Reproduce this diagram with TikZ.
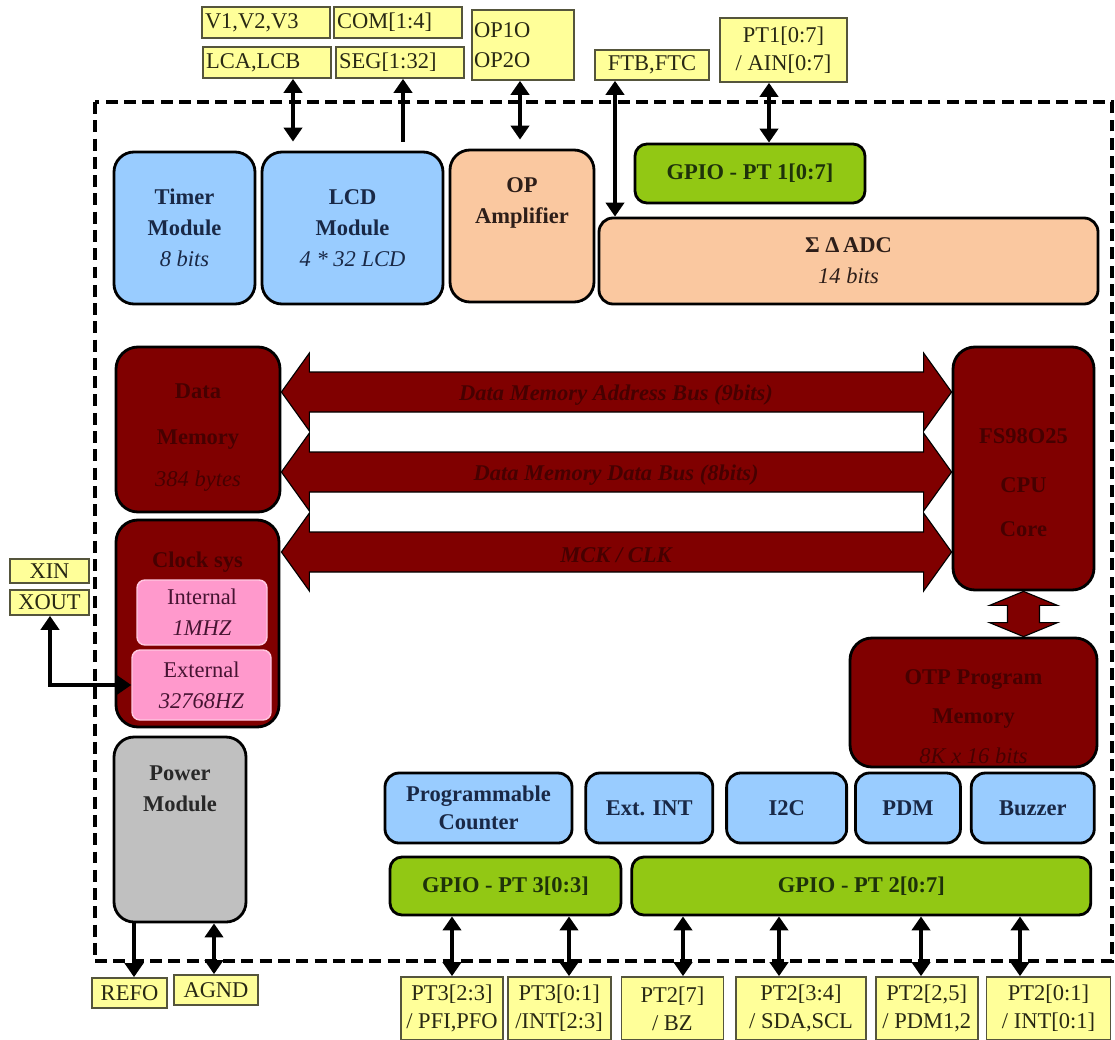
\documentclass[tikz,border=0pt]{standalone}
\usepackage{fontspec}
\setmainfont{Liberation Serif}
\usepackage{tikz}
\usetikzlibrary{positioning}
\usetikzlibrary{arrows.meta}
\usetikzlibrary{calc}
\tikzset{>={Triangle[width=13pt,length=10pt]}}

\newlength{\px}
\setlength{\px}{0.025cm}
\newcommand{\subtxt}[1]{{\mdseries\itshape #1}}

\definecolor{lblfill}{RGB}{255,255,153}
\definecolor{lbldraw}{RGB}{85,85,60}
\definecolor{lbltext}{RGB}{40,40,20}
\definecolor{blufill}{RGB}{153,204,255}
\definecolor{blutext}{RGB}{25,40,70}
\definecolor{orgfill}{RGB}{250,200,160}
\definecolor{orgtext}{RGB}{45,30,25}
\definecolor{grnfill}{RGB}{146,200,20}
\definecolor{grntext}{RGB}{30,50,10}
\definecolor{redfill}{RGB}{128,0,0}
\definecolor{redtext}{RGB}{70,0,0}
\definecolor{pnkfill}{RGB}{255,153,204}
\definecolor{pnkdraw}{RGB}{255,200,225}
\definecolor{pnktext}{RGB}{70,20,50}
\definecolor{gryfill}{RGB}{192,192,192}
\definecolor{grytext}{RGB}{40,40,40}

\tikzset{
  lbl/.style={draw=lbldraw, line width=1.2pt, fill=lblfill, inner sep=0pt, text=lbltext},
  blk/.style={draw=black, line width=2pt, inner sep=0pt, align=center, font=\bfseries, rounded corners=20\px},
  bluebox/.style={blk, fill=blufill, text=blutext},
  orgbox/.style={blk, fill=orgfill, text=orgtext},
  grnbox/.style={blk, fill=grnfill, text=grntext, rounded corners=12\px},
  redbox/.style={blk, fill=redfill, text=redtext, rounded corners=22\px},
  pnkbox/.style={blk, fill=pnkfill, draw=pnkdraw, line width=1pt, text=pnktext, font=\mdseries, rounded corners=8\px},
  grybox/.style={blk, fill=gryfill, text=grytext},
  txt/.style={align=center, font=\bfseries},
  redtxt/.style={txt, text=redtext},
  bustxt/.style={font=\bfseries\itshape, text=redtext},
  io/.style={line width=2.5pt},
  bus/.style={draw=black, line width=0.8pt, fill=redfill},
  chipframe/.style={line width=2.8pt, dash pattern=on 8.5pt off 4.5pt},
}

\begin{document}
\begin{tikzpicture}[x=0.025cm, y=-0.025cm]
    \fontsize{16}{22}\selectfont
    \useasboundingbox (0,0) rectangle (1115,1039);
    \draw[chipframe] (95,102) rectangle (1112,961);

    % pins on top
    \node (v123) [lbl, minimum width=128\px, minimum height=31\px, text width=122\px, align=left] at (266,22.5) {V1,V2,V3};
    \node (com) [lbl, minimum width=128\px, minimum height=31\px, text width=122\px, align=left] at (398,22.5) {COM[1:4]};
    \node (lcalcb) [lbl, minimum width=128\px, minimum height=31\px, text width=122\px, align=left] at (267,62.5) {LCA,LCB};
    \node (seg) [lbl, minimum width=128\px, minimum height=31\px, text width=122\px, align=left] at (400,62.5) {SEG[1:32]};
    \node (opo) [lbl, minimum width=102\px, minimum height=70\px, text width=98\px, align=left] at (523,45) {OP1O\\[-1pt]OP2O};
    \node (ftb) [lbl, minimum width=114\px, minimum height=30\px] at (652,65) {FTB,FTC};
    \node (pt1) [lbl, minimum width=127\px, minimum height=64\px, align=center] at (783.5,50) {PT1[0:7]\\[-2pt]/ AIN[0:7]};

    % first row
    \node (timer) [bluebox, minimum width=141\px, minimum height=152\px] at (184.5,228) {Timer\\Module\\\subtxt{8 bits}};
    \node (lcd) [bluebox, minimum width=181\px, minimum height=152\px] at (352.5,228) {LCD\\Module\\\subtxt{4 * 32 LCD}};
    \node (op) [orgbox, minimum width=144\px, minimum height=152\px] at (522,226) {};
    \node (optxt) [txt, text=orgtext, below=21\px of op.north] {OP\\Amplifier};
    \node (gpio1) [grnbox, minimum width=230\px, minimum height=59\px] at (750,173.5) {GPIO - PT 1[0:7]};
    \node (adc) [orgbox, rounded corners=14\px, minimum width=499\px, minimum height=86\px] at (848.5,261) {Σ Δ\,ADC\\\subtxt{14 bits}};

    % core
    \node (dmem) [redbox, minimum width=164\px, minimum height=165\px] at (198,429.5) {};
    \node (dmemtxt) [redtxt, below=30\px of dmem.north] {Data\\[11pt]Memory\\[8pt]\subtxt{384 bytes}};
    \node (clk) [redbox, minimum width=163\px, minimum height=207\px] at (197.5,623.5) {};
    \node (clktxt) [redtxt, below=26\px of clk.north] {Clock sys};
    \node (intl) [pnkbox, minimum width=130\px, minimum height=65\px] at (202,612.5) {Internal\\\subtxt{1MHZ}};
    \node (extl) [pnkbox, minimum width=139\px, minimum height=70\px] at (201.5,685) {External\\\subtxt{32768HZ}};
    \node (cpu) [redbox, minimum width=141\px, minimum height=243\px] at (1023.5,468.5) {};
    \node (cputxt) [redtxt, below=75\px of cpu.north] {FS98O25\\[13pt]CPU\\[9pt]Core};
    \node (otp) [redbox, minimum width=247\px, minimum height=129\px] at (973.5,702.5) {};
    \node (otptxt) [redtxt, below=25\px of otp.north] {OTP Program\\[6pt]Memory\\[6pt]\subtxt{8K x 16 bits}};

    \node (xin) [lbl, minimum width=79\px, minimum height=24\px] at (49.5,571) {XIN};
    \node (xout) [lbl, minimum width=79\px, minimum height=25\px] at (49.5,602.5) {XOUT};

    % buses
    \coordinate (busL) at (dmem.east);
    \coordinate (busR) at (cpu.west);
    \foreach \c in {392,472,552}
        \draw[bus] (busL |- 0,\c) -- ++(28,-39) -- ++(0,19) -- ($(busR |- 0,\c)+(-28,-20)$) -- ++(0,-19) -- (busR |- 0,\c) -- ++(-28,39) -- ++(0,-19) -- ($(busL |- 0,\c)+(28,20)$) -- ++(0,19) -- cycle;
    \node (bus1) [bustxt] at (616,395) {Data Memory Address Bus (9bits)};
    \node (bus2) [bustxt] at (616,475) {Data Memory Data Bus (8bits)};
    \node (bus3) [bustxt] at (616,555) {MCK / CLK};
    \draw[bus] (cpu.south) -- ++(34,14) -- ++(-18,0) -- ($(cpu.south |- otp.north)+(16,-14)$) -- ++(18,0) -- (cpu.south |- otp.north) -- ++(-34,-14) -- ++(18,0) -- ($(cpu.south)+(-16,14)$) -- ++(-18,0) -- cycle;

    % power and peripherals
    \node (pwr) [grybox, minimum width=132\px, minimum height=185\px] at (180,829.5) {};
    \node (pwrtxt) [txt, text=grytext, below=22\px of pwr.north] {Power\\Module};
    \node (pc) [bluebox, rounded corners=14\px, minimum width=187\px, minimum height=70\px] at (478.5,808) {Programmable\\[-2pt]Counter};
    \node (eint) [bluebox, rounded corners=14\px, minimum width=127\px, minimum height=70\px, right=11\px of pc] {Ext. INT};
    \node (i2c) [bluebox, rounded corners=14\px, minimum width=120\px, minimum height=70\px, right=11\px of eint] {I2C};
    \node (pdm) [bluebox, rounded corners=14\px, minimum width=105\px, minimum height=70\px, right=6\px of i2c] {PDM};
    \node (buz) [bluebox, rounded corners=14\px, minimum width=123\px, minimum height=70\px, right=8\px of pdm] {Buzzer};
    \node (gpio3) [grnbox, minimum width=231\px, minimum height=58\px] at (505.5,886) {GPIO - PT 3[0:3]};
    \node (gpio2) [grnbox, minimum width=459\px, minimum height=58\px, right=8\px of gpio3] {GPIO - PT 2[0:7]};

    % pins at the bottom
    \node (refo) [lbl, minimum width=75\px, minimum height=30\px] at (129.5,993) {REFO};
    \node (agnd) [lbl, minimum width=84\px, minimum height=30\px] at (216,990) {AGND};
    \node (p32) [lbl, minimum width=102\px, minimum height=63\px, align=center] at (452,1008.5) {PT3[2:3]\\[-2pt]/ PFI,PFO};
    \node (p30) [lbl, minimum width=103\px, minimum height=63\px, align=center, right=3\px of p32] {PT3[0:1]\\[-2pt]/INT[2:3]};
    \node (p27) [lbl, minimum width=102\px, minimum height=63\px, align=center, right=9\px of p30] {PT2[7]\\[-2pt]/ BZ};
    \node (p234) [lbl, minimum width=130\px, minimum height=63\px, align=center, right=11\px of p27] {PT2[3:4]\\[-2pt]/ SDA,SCL};
    \node (p225) [lbl, minimum width=102\px, minimum height=63\px, align=center, right=8\px of p234] {PT2[2,5]\\[-2pt]/ PDM1,2};
    \node (p201) [lbl, minimum width=124\px, minimum height=63\px, align=center, right=7\px of p225] {PT2[0:1]\\[-2pt]/ INT[0:1]};

    % pin connections
    \draw[io, <->, shorten >=9\px] (lcalcb.south -| 293,0) -- (lcd.north -| 293,0);
    \draw[io, ->, shorten <=9\px] (lcd.north -| 403,0) -- (seg.south -| 403,0);
    \draw[io, <->, shorten >=9\px] (opo.south -| 520,0) -- (op.north -| 520,0);
    \draw[io, <->] (ftb.south -| 615,0) -- (adc.north -| 615,0);
    \draw[io, <->] (pt1.south -| 769,0) -- (gpio1.north -| 769,0);
    \draw[io, <->] (xout.south -| 50,0) |- (extl.west);
    \draw[io, ->] (pwr.south -| 134,0) -- (refo.north -| 134,0);
    \draw[io, <->] (pwr.south -| 214,0) -- (agnd.north -| 214,0);
    \foreach \x/\n in {452/p32, 569/p30}
        \draw[io, <->] (gpio3.south -| \x,0) -- (\n.north -| \x,0);
    \foreach \x/\n in {683/p27, 779/p234, 921/p225, 1020/p201}
        \draw[io, <->] (gpio2.south -| \x,0) -- (\n.north -| \x,0);
\end{tikzpicture}
\end{document}
